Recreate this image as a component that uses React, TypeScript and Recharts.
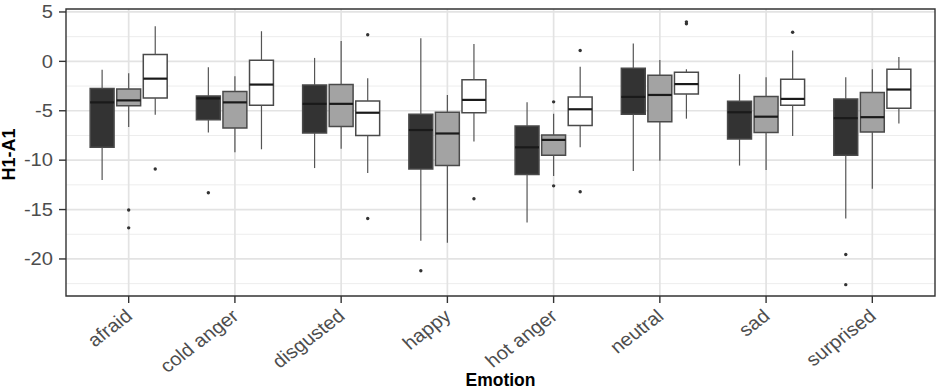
import {
  ComposedChart,
  XAxis,
  YAxis,
  CartesianGrid,
  ReferenceArea,
  ReferenceLine,
  Scatter,
  Label,
} from 'recharts'

const emotions = ['afraid', 'cold anger', 'disgusted', 'happy', 'hot anger', 'neutral', 'sad', 'surprised']

// each row: [lower whisker, Q1, median, Q3, upper whisker]
const darkBoxes = [
  [-12.0, -8.7, -4.15, -2.75, -0.85],
  [-7.2, -5.9, -3.75, -3.5, -0.6],
  [-10.8, -7.25, -4.3, -2.4, 0.35],
  [-18.15, -10.9, -6.95, -5.35, 2.35],
  [-16.3, -11.45, -8.7, -6.55, -4.15],
  [-11.1, -5.35, -3.6, -0.7, 1.8],
  [-10.55, -7.85, -5.15, -4.05, -1.3],
  [-15.9, -9.5, -5.75, -3.8, -1.6],
]
const grayBoxes = [
  [-6.65, -4.5, -3.95, -2.8, -1.2],
  [-9.2, -6.75, -4.15, -3.05, -1.5],
  [-8.85, -6.6, -4.3, -2.35, 2.05],
  [-18.35, -10.55, -7.3, -5.15, -3.4],
  [-11.6, -9.5, -7.95, -7.45, -5.3],
  [-10.05, -6.1, -3.4, -1.4, 0.15],
  [-11.0, -7.2, -5.6, -3.55, -1.6],
  [-12.9, -7.15, -5.65, -3.15, -0.8],
]
const whiteBoxes = [
  [-5.4, -3.7, -1.75, 0.7, 3.55],
  [-8.9, -4.45, -2.35, 0.1, 3.05],
  [-11.3, -7.5, -5.2, -4.0, -1.7],
  [-8.1, -5.2, -3.9, -1.85, 1.75],
  [-8.7, -6.5, -4.85, -3.6, -0.55],
  [-5.8, -3.3, -2.3, -1.1, -0.8],
  [-7.55, -4.45, -3.8, -1.8, 1.1],
  [-6.3, -4.75, -2.85, -0.8, 0.45],
]

// outliers: [emotion index, value]
const darkOutliers = [[1, -13.3], [3, -21.2], [7, -19.55], [7, -22.6]]
const grayOutliers = [[0, -15.05], [0, -16.85], [4, -4.1], [4, -12.6]]
const whiteOutliers = [
  [0, -10.9], [2, 2.7], [2, -15.9], [3, -13.9], [4, 1.1], [4, -13.2], [5, 3.8], [5, 4.0], [6, 2.95],
]

const yTicks = [-20, -15, -10, -5, 0, 5]
const yMinor = [-22.5, -17.5, -12.5, -7.5, -2.5, 2.5]

const groups = [
  { boxes: darkBoxes, outliers: darkOutliers, fill: '#333333', offset: -0.25 },
  { boxes: grayBoxes, outliers: grayOutliers, fill: '#a3a3a3', offset: 0 },
  { boxes: whiteBoxes, outliers: whiteOutliers, fill: '#ffffff', offset: 0.25 },
]

const HALF = 0.1125
const FONT = '"Liberation Sans", Arial, sans-serif'

const outlierPoints = groups.flatMap((g) =>
  g.outliers.map(([i, v]) => ({ x: i + 1 + g.offset, y: v }))
)

function YTick({ x, y, payload }: any) {
  return (
    <text
      transform={`translate(${x},${y}) scale(1.15,1)`}
      textAnchor="end"
      dy="0.36em"
      fontSize={17.5}
      fill="#4d4d4d"
      fontFamily={FONT}
    >
      {payload.value}
    </text>
  )
}

function XTick({ x, y, payload }: any) {
  return (
    <g transform={`translate(${x + 5},${y + 13}) scale(1.1,1) rotate(-40)`}>
      <text textAnchor="end" fontSize={18.5} fill="#4d4d4d" fontFamily={FONT}>
        {emotions[payload.value - 1]}
      </text>
    </g>
  )
}

export default function App() {
  return (
    <div style={{ position: 'absolute', left: 0, top: 0, width: 939, height: 390, background: '#fff' }}>
      <ComposedChart width={939} height={390} margin={{ top: 9, right: 4, left: 0, bottom: 0 }}>
        <CartesianGrid horizontalValues={yMinor} vertical={false} stroke="#ededed" strokeWidth={1} />
        <CartesianGrid
          horizontalValues={yTicks}
          verticalValues={[1, 2, 3, 4, 5, 6, 7, 8]}
          stroke="#e3e3e3"
          strokeWidth={1.7}
        />
        <XAxis
          type="number"
          dataKey="x"
          domain={[0.41, 8.59]}
          ticks={[1, 2, 3, 4, 5, 6, 7, 8]}
          allowDataOverflow
          height={94}
          tick={<XTick />}
          tickSize={7}
          tickMargin={2}
          tickLine={{ stroke: '#333', strokeWidth: 1.4 }}
          axisLine={false}
        >
          <Label
            content={({ viewBox }: any) => (
              <text
                x={viewBox.x + viewBox.width / 2}
                y={386}
                textAnchor="middle"
                fontSize={17.5}
                fontWeight="bold"
                fontFamily={FONT}
                fill="#000"
              >
                Emotion
              </text>
            )}
          />
        </XAxis>
        <YAxis
          type="number"
          domain={[-23.75, 5.3]}
          ticks={yTicks}
          allowDataOverflow
          width={66}
          tick={<YTick />}
          tickSize={7}
          tickMargin={6}
          tickLine={{ stroke: '#333', strokeWidth: 1.4 }}
          axisLine={false}
        >
          <Label
            content={({ viewBox }: any) => (
              <text
                transform={`translate(15,${viewBox.y + viewBox.height / 2 + 2}) rotate(-90)`}
                textAnchor="middle"
                fontSize={18}
                fontWeight="bold"
                fontFamily={FONT}
                fill="#000"
              >
                H1-A1
              </text>
            )}
          />
        </YAxis>

        {groups.flatMap((g, gi) =>
          g.boxes.flatMap(([lo, q1, , q3, hi], i) => {
            const cx = i + 1 + g.offset
            return [
              <ReferenceLine
                key={`wl-${gi}-${i}`}
                segment={[{ x: cx, y: lo }, { x: cx, y: q1 }]}
                stroke="#555"
                strokeWidth={1.2}
                ifOverflow="visible"
              />,
              <ReferenceLine
                key={`wh-${gi}-${i}`}
                segment={[{ x: cx, y: q3 }, { x: cx, y: hi }]}
                stroke="#555"
                strokeWidth={1.2}
                ifOverflow="visible"
              />,
            ]
          })
        )}

        {groups.flatMap((g, gi) =>
          g.boxes.map(([, q1, , q3], i) => {
            const cx = i + 1 + g.offset
            return (
              <ReferenceArea
                key={`box-${gi}-${i}`}
                x1={cx - HALF}
                x2={cx + HALF}
                y1={q1}
                y2={q3}
                fill={g.fill}
                fillOpacity={1}
                stroke="#4a4a4a"
                strokeWidth={1.5}
                ifOverflow="visible"
              />
            )
          })
        )}

        {groups.flatMap((g, gi) =>
          g.boxes.map(([, , med], i) => {
            const cx = i + 1 + g.offset
            return (
              <ReferenceLine
                key={`med-${gi}-${i}`}
                segment={[{ x: cx - HALF, y: med }, { x: cx + HALF, y: med }]}
                stroke="#1a1a1a"
                strokeWidth={2.2}
                ifOverflow="visible"
              />
            )
          })
        )}

        <Scatter
          data={outlierPoints}
          dataKey="y"
          fill="#333"
          isAnimationActive={false}
          shape={(p: any) => <circle cx={p.cx} cy={p.cy} r={1.7} fill="#333" />}
        />

        <ReferenceArea
          x1={0.41}
          x2={8.59}
          y1={-23.75}
          y2={5.3}
          fill="none"
          stroke="#333"
          strokeWidth={1.4}
          ifOverflow="visible"
        />
      </ComposedChart>
    </div>
  )
}
